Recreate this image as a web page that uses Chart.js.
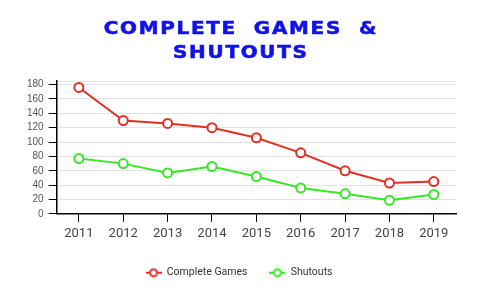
<!DOCTYPE html>
<html>
<head>
<meta charset="utf-8">
<script src="https://cdn.jsdelivr.net/npm/chart.js@4"></script>
<style>
  html, body { margin: 0; padding: 0; background: #fff; }
  #wrap { position: relative; width: 482px; height: 293px; }
  #title {
    position: absolute; left: 0; top: 16px; width: 482px;
    text-align: center; font-family: "DejaVu Sans", sans-serif; font-weight: bold;
    font-size: 17px; line-height: 24px; letter-spacing: 1.5px; word-spacing: 7px;
    color: #1212e6; margin: 0; -webkit-text-stroke: 0.6px #1212e6;
    transform: scaleX(1.17); transform-origin: 242px 0;
  }
  canvas { position: absolute; left: 0; top: 0; }
</style>
</head>
<body>
<div id="wrap">
  <canvas id="c" width="482" height="293"></canvas>
  <div id="title">COMPLETE GAMES &amp;<br>SHUTOUTS</div>
</div>
<script>
const years = ["2011","2012","2013","2014","2015","2016","2017","2018","2019"];
const completeGames = [176, 130, 126, 120, 106, 85, 60, 43, 45];
const shutouts = [77, 70, 57, 66, 52, 36, 28, 19, 27];
const yTicks = [0, 20, 40, 60, 80, 100, 120, 140, 160, 180];
const yMax = 185;

const RED = "#df3222";
const GREEN = "#3ae628";

function legendIcon(color) {
  const cv = document.createElement("canvas");
  cv.width = 16; cv.height = 10;
  const g = cv.getContext("2d");
  g.strokeStyle = color; g.lineWidth = 2;
  g.beginPath(); g.moveTo(0, 5); g.lineTo(16, 5); g.stroke();
  g.fillStyle = "#fff";
  g.beginPath(); g.arc(8, 5, 3.5, 0, Math.PI * 2); g.fill(); g.stroke();
  return cv;
}

new Chart(document.getElementById("c"), {
  type: "line",
  data: {
    labels: years,
    datasets: [
      { label: "Complete Games", data: completeGames, borderColor: RED, backgroundColor: "#fff",
        borderWidth: 2, pointRadius: 4.5, pointBorderWidth: 2, pointBackgroundColor: "#fff", tension: 0 },
      { label: "Shutouts", data: shutouts, borderColor: GREEN, backgroundColor: "#fff",
        borderWidth: 2, pointRadius: 4.5, pointBorderWidth: 2, pointBackgroundColor: "#fff", tension: 0 }
    ]
  },
  options: {
    responsive: false,
    animation: false,
    layout: { padding: { top: 81, left: 22, right: 26, bottom: 5 } },
    plugins: {
      title: { display: false },
      tooltip: { enabled: false },
      legend: {
        position: "bottom",
        labels: {
          usePointStyle: true,
          pointStyleWidth: 16,
          boxHeight: 10,
          padding: 22,
          color: "#333",
          font: { family: "Roboto", size: 10.5 },
          generateLabels(chart) {
            return chart.data.datasets.map((ds, i) => ({
              text: ds.label, fillStyle: "#fff", strokeStyle: ds.borderColor,
              lineWidth: 0, pointStyle: legendIcon(ds.borderColor), datasetIndex: i, hidden: false, fontColor: "#333"
            }));
          }
        }
      }
    },
    scales: {
      x: {
        offset: true,
        border: { color: "#000", width: 1.5 },
        grid: { drawOnChartArea: false, tickLength: 8, color: "#000", tickColor: "#000" },
        ticks: { color: "#444", font: { family: "Roboto", size: 13 }, padding: 4 }
      },
      y: {
        min: 0, max: yMax,
        afterBuildTicks(scale) {
          scale.ticks = yTicks.map(v => ({ value: v })).concat([{ value: yMax }]);
        },
        border: { color: "#000", width: 1.5 },
        grid: {
          tickLength: 8,
          color: "#e2e2e2",
          lineWidth: 1,
          tickColor: ctx => (ctx.tick && ctx.tick.value === yMax) ? "rgba(0,0,0,0)" : "#000"
        },
        ticks: {
          autoSkip: false,
          color: "#555", font: { family: "Liberation Sans", size: 10 }, padding: 5,
          callback: v => (v === yMax ? "" : v)
        }
      }
    }
  }
});
</script>
</body>
</html>
